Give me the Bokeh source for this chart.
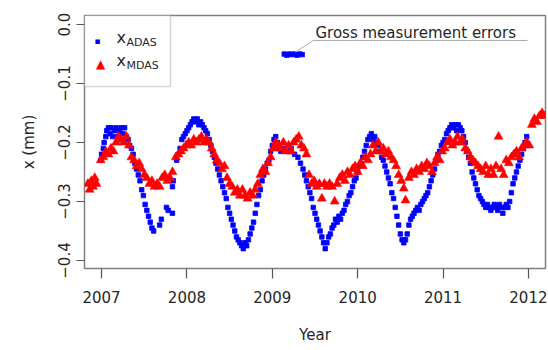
from bokeh.plotting import figure
from bokeh.models import FixedTicker, Label, BoxAnnotation
from bokeh.embed import file_html
from bokeh.resources import INLINE

# ---------------- data ----------------
adas_year = [
    2006.99, 2007.00, 2007.02, 2007.03, 2007.05, 2007.06, 2007.08, 2007.10, 2007.11, 2007.13,
    2007.15, 2007.17, 2007.19, 2007.21, 2007.23, 2007.25, 2007.27, 2007.29, 2007.31, 2007.33,
    2007.35, 2007.37, 2007.39, 2007.41, 2007.43, 2007.45, 2007.47, 2007.49, 2007.51, 2007.53,
    2007.55, 2007.57, 2007.59, 2007.61, 2007.68, 2007.70, 2007.76, 2007.78, 2007.83, 2007.83,
    2007.84, 2007.88, 2007.90, 2007.92, 2007.94, 2007.96, 2007.98, 2008.00, 2008.02, 2008.04,
    2008.06, 2008.08, 2008.10, 2008.12, 2008.14, 2008.16, 2008.18, 2008.20, 2008.22, 2008.24,
    2008.26, 2008.28, 2008.30, 2008.32, 2008.34, 2008.36, 2008.38, 2008.40, 2008.42, 2008.44,
    2008.46, 2008.48, 2008.50, 2008.52, 2008.54, 2008.56, 2008.58, 2008.60, 2008.62, 2008.64,
    2008.66, 2008.68, 2008.70, 2008.72, 2008.74, 2008.76, 2008.78, 2008.80, 2008.82, 2008.84,
    2008.86, 2008.88, 2008.90, 2008.92, 2008.94, 2008.96, 2008.98, 2009.00, 2009.02, 2009.04,
    2009.06, 2009.08, 2009.10, 2009.14, 2009.18, 2009.22, 2009.26, 2009.30, 2009.33, 2009.36,
    2009.38, 2009.40, 2009.42, 2009.44, 2009.46, 2009.48, 2009.50, 2009.52, 2009.54, 2009.56,
    2009.58, 2009.60, 2009.62, 2009.64, 2009.66, 2009.68, 2009.70, 2009.72, 2009.74, 2009.76,
    2009.78, 2009.80, 2009.82, 2009.84, 2009.86, 2009.88, 2009.90, 2009.92, 2009.94, 2009.96,
    2009.98, 2010.00, 2010.02, 2010.04, 2010.06, 2010.08, 2010.10, 2010.12, 2010.14, 2010.16,
    2010.18, 2010.20, 2010.22, 2010.24, 2010.26, 2010.28, 2010.30, 2010.32, 2010.34, 2010.36,
    2010.38, 2010.40, 2010.42, 2010.44, 2010.46, 2010.48, 2010.50, 2010.52, 2010.54, 2010.56,
    2010.58, 2010.60, 2010.62, 2010.64, 2010.66, 2010.68, 2010.70, 2010.72, 2010.74, 2010.76,
    2010.78, 2010.80, 2010.82, 2010.84, 2010.86, 2010.88, 2010.90, 2010.92, 2010.94, 2010.96,
    2010.98, 2011.00, 2011.02, 2011.04, 2011.06, 2011.08, 2011.10, 2011.12, 2011.14, 2011.16,
    2011.18, 2011.20, 2011.22, 2011.24, 2011.26, 2011.28, 2011.30, 2011.32, 2011.34, 2011.36,
    2011.38, 2011.40, 2011.42, 2011.44, 2011.46, 2011.48, 2011.50, 2011.52, 2011.54, 2011.56,
    2011.58, 2011.60, 2011.62, 2011.64, 2011.66, 2011.68, 2011.70, 2011.72, 2011.74, 2011.76,
    2011.78, 2011.80, 2011.82, 2011.84, 2011.86, 2011.88, 2011.90, 2011.92, 2011.94, 2011.96,
    2011.98,
]
adas_x = [
    -0.230, -0.220, -0.210, -0.200, -0.190, -0.180, -0.175, -0.185, -0.175, -0.190,
    -0.180, -0.175, -0.190, -0.180, -0.175, -0.185, -0.175, -0.190, -0.195, -0.205,
    -0.210, -0.220, -0.235, -0.245, -0.255, -0.265, -0.280, -0.290, -0.305, -0.315,
    -0.325, -0.335, -0.345, -0.350, -0.340, -0.330, -0.310, -0.315, -0.320, -0.275,
    -0.265, -0.230, -0.220, -0.210, -0.195, -0.190, -0.185, -0.180, -0.175, -0.170,
    -0.165, -0.160, -0.165, -0.160, -0.170, -0.165, -0.170, -0.175, -0.180, -0.185,
    -0.195, -0.205, -0.215, -0.225, -0.235, -0.245, -0.255, -0.265, -0.275, -0.285,
    -0.295, -0.310, -0.320, -0.330, -0.340, -0.350, -0.360, -0.365, -0.370, -0.375,
    -0.380, -0.370, -0.375, -0.365, -0.355, -0.345, -0.335, -0.320, -0.305, -0.290,
    -0.280, -0.265, -0.255, -0.245, -0.235, -0.230, -0.215, -0.205, -0.195, -0.190,
    -0.200, -0.210, -0.215, -0.210, -0.215, -0.210, -0.220, -0.225, -0.235, -0.245,
    -0.255, -0.265, -0.275, -0.285, -0.295, -0.310, -0.320, -0.330, -0.340, -0.350,
    -0.360, -0.370, -0.380, -0.370, -0.360, -0.355, -0.345, -0.340, -0.330, -0.335,
    -0.325, -0.330, -0.320, -0.315, -0.305, -0.300, -0.290, -0.285, -0.275, -0.265,
    -0.260, -0.250, -0.240, -0.235, -0.225, -0.215, -0.205, -0.195, -0.190, -0.185,
    -0.195, -0.190, -0.200, -0.205, -0.215, -0.225, -0.230, -0.240, -0.250, -0.260,
    -0.270, -0.285, -0.295, -0.310, -0.325, -0.340, -0.355, -0.365, -0.370, -0.365,
    -0.355, -0.340, -0.330, -0.325, -0.320, -0.315, -0.310, -0.315, -0.305, -0.300,
    -0.295, -0.290, -0.285, -0.275, -0.265, -0.255, -0.245, -0.230, -0.220, -0.215,
    -0.205, -0.200, -0.195, -0.185, -0.180, -0.175, -0.170, -0.175, -0.170, -0.180,
    -0.170, -0.175, -0.180, -0.190, -0.200, -0.215, -0.225, -0.235, -0.250, -0.260,
    -0.270, -0.280, -0.290, -0.295, -0.300, -0.305, -0.310, -0.305, -0.310, -0.315,
    -0.310, -0.305, -0.310, -0.315, -0.305, -0.310, -0.320, -0.310, -0.305, -0.310,
    -0.300, -0.285, -0.270, -0.260, -0.250, -0.240, -0.230, -0.220, -0.210, -0.200,
    -0.190,
]

# gross measurement errors (ADAS)
gross_year = [2009.14, 2009.17, 2009.20, 2009.23, 2009.26, 2009.29, 2009.32, 2009.35]
gross_x = [-0.050, -0.052, -0.050, -0.051, -0.050, -0.052, -0.050, -0.051]

mdas_year = [
    2006.84, 2006.86, 2006.88, 2006.90, 2006.92, 2006.94, 2006.99, 2007.02, 2007.05, 2007.08,
    2007.11, 2007.14, 2007.17, 2007.20, 2007.23, 2007.26, 2007.29, 2007.32, 2007.35, 2007.38,
    2007.41, 2007.44, 2007.47, 2007.50, 2007.53, 2007.56, 2007.59, 2007.62, 2007.65, 2007.68,
    2007.71, 2007.74, 2007.77, 2007.80, 2007.83, 2007.87, 2007.90, 2007.93, 2007.96, 2007.99,
    2008.02, 2008.05, 2008.08, 2008.11, 2008.14, 2008.17, 2008.20, 2008.23, 2008.26, 2008.29,
    2008.32, 2008.35, 2008.38, 2008.41, 2008.44, 2008.47, 2008.50, 2008.53, 2008.56, 2008.59,
    2008.62, 2008.65, 2008.68, 2008.71, 2008.74, 2008.77, 2008.80, 2008.83, 2008.86, 2008.89,
    2008.92, 2008.95, 2008.98, 2009.01, 2009.04, 2009.07, 2009.10, 2009.13, 2009.16, 2009.19,
    2009.22, 2009.25, 2009.28, 2009.31, 2009.34, 2009.37, 2009.40, 2009.43, 2009.46, 2009.49,
    2009.52, 2009.55, 2009.58, 2009.61, 2009.64, 2009.67, 2009.70, 2009.73, 2009.76, 2009.79,
    2009.82, 2009.85, 2009.88, 2009.91, 2009.94, 2009.97, 2010.00, 2010.03, 2010.06, 2010.09,
    2010.12, 2010.15, 2010.18, 2010.21, 2010.24, 2010.27, 2010.30, 2010.33, 2010.36, 2010.39,
    2010.42, 2010.45, 2010.48, 2010.51, 2010.54, 2010.56, 2010.60, 2010.63, 2010.66, 2010.69,
    2010.72, 2010.75, 2010.78, 2010.81, 2010.84, 2010.87, 2010.90, 2010.93, 2010.96, 2010.99,
    2011.02, 2011.05, 2011.08, 2011.11, 2011.14, 2011.17, 2011.20, 2011.23, 2011.26, 2011.29,
    2011.32, 2011.35, 2011.38, 2011.41, 2011.44, 2011.47, 2011.50, 2011.53, 2011.56, 2011.59,
    2011.62, 2011.65, 2011.68, 2011.71, 2011.74, 2011.77, 2011.80, 2011.83, 2011.86, 2011.89,
    2011.92, 2011.95, 2011.98, 2012.01, 2012.04, 2012.07, 2012.10, 2012.13, 2012.16, 2012.19,
]
mdas_x = [
    -0.270, -0.280, -0.265, -0.275, -0.260, -0.270, -0.230, -0.225, -0.215, -0.220,
    -0.210, -0.215, -0.200, -0.190, -0.195, -0.200, -0.190, -0.205, -0.225, -0.230,
    -0.240, -0.235, -0.245, -0.255, -0.260, -0.270, -0.265, -0.275, -0.270, -0.275,
    -0.260, -0.255, -0.265, -0.260, -0.250, -0.225, -0.220, -0.215, -0.210, -0.205,
    -0.200, -0.205, -0.195, -0.200, -0.195, -0.190, -0.200, -0.195, -0.200, -0.210,
    -0.220, -0.230, -0.235, -0.245, -0.240, -0.260, -0.270, -0.275, -0.285, -0.280,
    -0.290, -0.280, -0.290, -0.295, -0.285, -0.290, -0.280, -0.270, -0.255, -0.245,
    -0.250, -0.235, -0.225, -0.210, -0.200, -0.205, -0.210, -0.200, -0.215, -0.205,
    -0.215, -0.200, -0.195, -0.190, -0.205, -0.210, -0.220, -0.255, -0.270, -0.265,
    -0.275, -0.270, -0.295, -0.270, -0.275, -0.270, -0.275, -0.300, -0.270, -0.260,
    -0.255, -0.265, -0.250, -0.255, -0.245, -0.240, -0.250, -0.235, -0.240, -0.225,
    -0.230, -0.220, -0.205, -0.215, -0.200, -0.215, -0.210, -0.220, -0.215, -0.225,
    -0.230, -0.240, -0.255, -0.265, -0.278, -0.298, -0.260, -0.250, -0.255, -0.245,
    -0.250, -0.240, -0.245, -0.235, -0.240, -0.250, -0.235, -0.225, -0.230, -0.215,
    -0.210, -0.200, -0.195, -0.205, -0.200, -0.190, -0.200, -0.195, -0.210, -0.215,
    -0.225, -0.230, -0.235, -0.240, -0.245, -0.250, -0.240, -0.255, -0.245, -0.255,
    -0.240, -0.190, -0.245, -0.255, -0.230, -0.235, -0.225, -0.220, -0.215, -0.225,
    -0.210, -0.205, -0.200, -0.205, -0.170, -0.160, -0.165, -0.155, -0.150, -0.155,
]

x_ticks = [2007, 2008, 2009, 2010, 2011, 2012]
x_tick_labels = ["2007", "2008", "2009", "2010", "2011", "2012"]
y_ticks = [0.0, -0.1, -0.2, -0.3, -0.4]
y_tick_labels = ["0.0", "\u22120.1", "\u22120.2", "\u22120.3", "\u22120.4"]

note_text = "Gross measurement errors"

# ---------------- figure ----------------
FONT = "DejaVu Sans"
TXT = "#262626"

p = figure(width=548, height=350, x_range=(2006.80, 2012.20), y_range=(-0.4136, 0.0153),
           output_backend="svg", toolbar_location=None,
           min_border_left=84, min_border_right=3, min_border_top=15, min_border_bottom=82)
p.background_fill_color = "white"
p.border_fill_color = "white"
p.outline_line_color = "#7f7f7f"
p.outline_line_width = 1.5
p.xgrid.visible = False
p.ygrid.visible = False

for ax in (p.xaxis[0], p.yaxis[0]):
    ax.axis_line_color = None
    ax.major_tick_line_color = "#555555"
    ax.major_tick_line_width = 1.2
    ax.minor_tick_line_color = None
    ax.major_tick_in = 0
    ax.major_label_text_font = FONT
    ax.major_label_text_font_size = "15px"
    ax.major_label_text_color = TXT
    ax.axis_label_text_font = FONT
    ax.axis_label_text_font_size = "15px"
    ax.axis_label_text_font_style = "normal"
    ax.axis_label_text_color = TXT

p.xaxis.ticker = FixedTicker(ticks=x_ticks)
p.xaxis.major_label_overrides = dict(zip(x_ticks, x_tick_labels))
p.xaxis.major_tick_out = 10
p.xaxis.major_label_standoff = 12
p.xaxis.axis_label = "Year"
p.xaxis.axis_label_standoff = 20

p.yaxis.ticker = FixedTicker(ticks=y_ticks)
p.yaxis.major_label_overrides = dict(zip(y_ticks, y_tick_labels))
p.yaxis.major_tick_out = 8
p.yaxis.major_label_standoff = 6
p.yaxis.major_label_orientation = "vertical"
p.yaxis.axis_label = "x (mm)"
p.yaxis.axis_label_standoff = 18

# data
p.scatter(adas_year, adas_x, marker="square", size=4.5, color="#0000ff", line_width=0.8)
p.scatter(gross_year, gross_x, marker="square", size=4.5, color="#0000ff", line_width=0.8)
p.scatter(mdas_year, mdas_x, marker="triangle", size=9, color="#ff0000", line_width=0.5)

# annotation for gross errors: leader line from the points to under the text
gx = gross_year[len(gross_year) // 2]
gy = max(gross_x)
p.line([gx + 0.01, gx + 0.22, gx + 2.73], [gy + 0.003, gy + 0.023, gy + 0.023],
       line_color="#aaaaaa", line_width=1)
p.add_layout(Label(x=gx + 0.245, y=gy + 0.035, text=note_text, text_font=FONT,
                   text_font_size="15px", text_color=TXT, text_baseline="middle",
                   text_align="left"))

# manual legend (screen units, relative to the plot frame)
p.add_layout(BoxAnnotation(left=0, right=86, top=253, bottom=182,
                           left_units="screen", right_units="screen",
                           top_units="screen", bottom_units="screen",
                           fill_color="white", fill_alpha=1.0,
                           line_color="#7f7f7f", line_width=1.5))
p.add_layout(Label(x=13, y=228, x_units="screen", y_units="screen", text="\u25aa",
                   text_color="#0000ff", text_font=FONT, text_font_size="9px",
                   text_align="center", text_baseline="middle"))
p.add_layout(Label(x=16, y=205, x_units="screen", y_units="screen", text="\u25b2",
                   text_color="#ff0000", text_font=FONT, text_font_size="12px",
                   text_align="center", text_baseline="middle"))
p.add_layout(Label(x=32, y=231, x_units="screen", y_units="screen", text="x",
                   text_color=TXT, text_font=FONT, text_font_size="16px",
                   text_align="left", text_baseline="middle"))
p.add_layout(Label(x=42, y=226, x_units="screen", y_units="screen", text="ADAS",
                   text_color=TXT, text_font=FONT, text_font_size="11px",
                   text_align="left", text_baseline="middle"))
p.add_layout(Label(x=32, y=208, x_units="screen", y_units="screen", text="x",
                   text_color=TXT, text_font=FONT, text_font_size="16px",
                   text_align="left", text_baseline="middle"))
p.add_layout(Label(x=42, y=203, x_units="screen", y_units="screen", text="MDAS",
                   text_color=TXT, text_font=FONT, text_font_size="11px",
                   text_align="left", text_baseline="middle"))

open("out.html", "w").write(file_html(p, INLINE))
